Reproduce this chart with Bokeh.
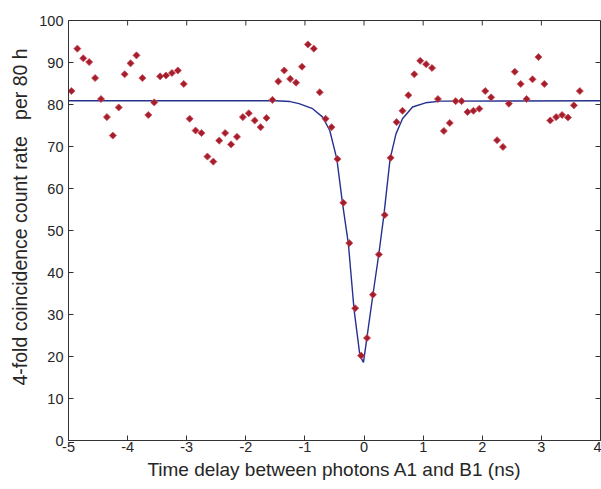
from bokeh.plotting import figure
from bokeh.models import FixedTicker, Range1d, CustomJSTickFormatter
from bokeh.embed import file_html
from bokeh.resources import INLINE
import numpy as np

# ---- data ----
delay_ns = [-4.95, -4.85, -4.75, -4.65, -4.55, -4.45, -4.35, -4.25, -4.15, -4.05,
            -3.95, -3.85, -3.75, -3.65, -3.55, -3.45, -3.35, -3.25, -3.15, -3.05,
            -2.95, -2.85, -2.75, -2.65, -2.55, -2.45, -2.35, -2.25, -2.15, -2.05,
            -1.95, -1.85, -1.75, -1.65, -1.55, -1.45, -1.35, -1.25, -1.15, -1.05,
            -0.95, -0.85, -0.75, -0.65, -0.55, -0.45, -0.35, -0.25, -0.15, -0.05,
            0.05, 0.15, 0.25, 0.35, 0.45, 0.55, 0.65, 0.75, 0.85, 0.95,
            1.05, 1.15, 1.25, 1.35, 1.45, 1.55, 1.65, 1.75, 1.85, 1.95,
            2.05, 2.15, 2.25, 2.35, 2.45, 2.55, 2.65, 2.75, 2.85, 2.95,
            3.05, 3.15, 3.25, 3.35, 3.45, 3.55, 3.65]
counts = [83.2, 93.3, 91.0, 90.1, 86.3, 81.3, 77.0, 72.6, 79.3, 87.2,
          89.8, 91.7, 86.3, 77.5, 80.5, 86.7, 86.9, 87.5, 88.1, 84.9,
          76.6, 73.8, 73.2, 67.6, 66.4, 71.4, 73.2, 70.5, 72.3, 77.0,
          77.9, 76.2, 74.6, 76.8, 81.1, 85.5, 88.1, 86.1, 85.2, 89.0,
          94.3, 93.3, 82.9, 76.6, 74.6, 67.0, 56.6, 47.0, 31.5, 20.2,
          24.4, 34.7, 44.3, 53.7, 67.3, 75.8, 78.5, 82.2, 87.2, 90.4,
          89.6, 88.7, 81.3, 73.7, 75.6, 80.8, 80.8, 78.2, 78.5, 79.0,
          83.2, 81.7, 71.5, 69.9, 80.2, 87.8, 84.9, 81.3, 86.0, 91.3,
          84.9, 76.2, 77.0, 77.5, 76.9, 79.8, 83.2]

fit_x = [-5.0, -1.5, -1.25, -1.10, -0.87, -0.70, -0.58, -0.46, -0.365, -0.265,
         -0.17, -0.07, -0.01, 0.05, 0.15, 0.25, 0.335, 0.44, 0.54, 0.65,
         0.82, 1.04, 1.3, 4.0]
fit_y = [80.9, 80.9, 80.7, 80.2, 79.0, 77.0, 73.8, 67.0, 56.5, 46.8,
         31.3, 20.2, 18.6, 24.6, 34.7, 44.4, 53.6, 67.0, 73.0, 76.6,
         79.4, 80.4, 80.8, 80.9]

x_ticks = [-5, -4, -3, -2, -1, 0, 1, 2, 3, 4]
y_ticks = [0, 10, 20, 30, 40, 50, 60, 70, 80, 90, 100]

FONT = "Liberation Sans"
AXC = "#333333"
TXT = "#262626"

p = figure(frame_width=532, frame_height=420, output_backend="svg",
           toolbar_location=None,
           x_range=Range1d(x_ticks[0], x_ticks[-1]),
           y_range=Range1d(y_ticks[0], y_ticks[-1]),
           min_border_left=68, min_border_right=1, min_border_top=20,
           min_border_bottom=47)
p.background_fill_color = "white"
p.border_fill_color = "white"
p.outline_line_color = AXC
p.outline_line_alpha = 1.0
p.xgrid.visible = False
p.ygrid.visible = False

for ax, ticks in ((p.xaxis[0], x_ticks), (p.yaxis[0], y_ticks)):
    ax.ticker = FixedTicker(ticks=ticks)
    ax.formatter = CustomJSTickFormatter(code="return tick.toString();")
    ax.major_tick_in = 5
    ax.major_tick_out = 0
    ax.minor_tick_line_color = None
    ax.axis_line_color = AXC
    ax.major_tick_line_color = AXC
    ax.major_label_text_font = FONT
    ax.major_label_text_color = TXT
    ax.major_label_text_font_size = "14.5px"
    ax.axis_label_text_font = FONT
    ax.axis_label_text_font_style = "normal"
    ax.axis_label_text_color = TXT

p.xaxis[0].major_label_standoff = 1
p.yaxis[0].major_label_standoff = 5
p.xaxis[0].axis_label = "Time delay between photons A1 and B1 (ns)"
p.yaxis[0].axis_label = "\u00a0" * 5 + "4-fold coincidence count rate\u00a0\u00a0\u00a0per 80 h"
p.xaxis[0].axis_label_text_font_size = "19px"
p.yaxis[0].axis_label_text_font_size = "19.5px"
p.xaxis[0].axis_label_standoff = 4
p.yaxis[0].axis_label_standoff = 5

# inward ticks on the top and right edges of the box (Matlab style)
p.ray(x=[x_ticks[-1]] * len(y_ticks), y=y_ticks, length=5, length_units="screen",
      angle=np.pi, line_color=AXC, line_width=1)
p.ray(x=x_ticks, y=[y_ticks[-1]] * len(x_ticks), length=5, length_units="screen",
      angle=-np.pi / 2, line_color=AXC, line_width=1)

p.line(fit_x, fit_y, line_color="#24318f", line_width=1.4)
p.scatter(delay_ns, counts, marker="square", angle=np.pi / 4, size=5,
          fill_color="#a31f2e", line_color="#cf4a58", line_width=0.8)

open("out.html", "w").write(file_html(p, INLINE))
